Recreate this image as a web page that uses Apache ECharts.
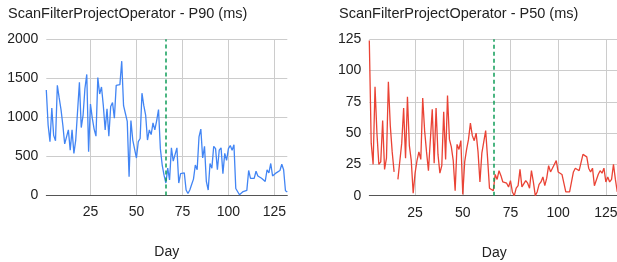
<!DOCTYPE html>
<html>
<head>
<meta charset="utf-8">
<script src="https://cdn.jsdelivr.net/npm/echarts@6/dist/echarts.min.js"></script>
<style>
  html, body { margin: 0; padding: 0; background: #fff; }
  #chart { width: 617px; height: 262px; }
</style>
</head>
<body>
<div id="chart"></div>
<script>
// day numbers 1..132
var days = Array.from({ length: 132 }, function (_, i) { return i + 1; });
var xTicks = [25, 50, 75, 100, 125];
var markDay = 66;

// P90 (ms), one value per day
var p90 = [
  1350, 900, 690, 1120, 770, 700, 1410, 1250, 1100, 900,
  660, 650, 840, 580, 840, 540, 710, 700, 1450, 870,
  1030, 1370, 1550, 560, 1170, 990, 850, 760, 1510, 1300,
  1390, 1150, 840, 1110, 760, 1140, 1190, 990, 1410, 1390,
  1420, 1720, 1150, 1050, 950, 240, 960, 710, 690, 480,
  690, 730, 1310, 1150, 1030, 710, 840, 780, 930, 840,
  960, 1100, 600, 390, 260, 160, 350, 200, 610, 440,
  440, 610, 160, 280, 290, 290, 70, 25, 70, 140,
  210, 390, 330, 750, 850, 480, 630, 180, 70, 410,
  350, 630, 600, 330, 580, 610, 280, 540, 450, 600,
  640, 580, 650, 90, 70, 10, 0, 50, 70, 65,
  320, 220, 210, 220, 310, 250, 230, 220, 200, 180,
  330, 290, 410, 250, 250, 290, 300, 320, 400, 330,
  60, 45
];

// P50 (ms), one value per day (null = no data)
var p50 = [
  124, 42, 25, 87, 50, 25, 27, 60, 21, 30,
  91, 56, 35, 19, null, 13, 14, 42, 70, 30,
  79, 40, 28, 2, 18, 28, 35, 29, 78, 52,
  35, 20, 21, 69, 26, 70, 33, 18, 24, 67,
  29, 80, 45, 39, 28, 4, 41, 37, 44, 1,
  27, 37, 45, 58, 48, 44, 50, 35, 11, 34,
  34, 52, 30, 6, 7, 4, 17, 13, 20, 16,
  11, 10, 10, 7, 12, 3, 0, 6, 8, 21,
  7, 7, 12, 10, 6, 20, 11, 0, 3, 9,
  11, 15, 8, 14, 24, 19, 22, 21, 28, 19,
  20, 17, 10, 3, 3, 3, 2, 19, 22, 22,
  20, 21, 33, 34, 31, 22, 19, 22, 8, 7,
  17, 20, 18, 22, 11, 15, 11, 13, 25, 13,
  3, 8
];

function pairs(vals) {
  return days.map(function (d, i) { return [d, vals[i]]; });
}

var font = 'Arial, "Liberation Sans", sans-serif';
var textCol = '#222';

function xAxisFor(idx) {
  return {
    type: 'value', gridIndex: idx, min: 1, max: 132,
    name: 'Day', nameLocation: 'middle', nameGap: 50,
    nameTextStyle: { fontFamily: font, fontSize: 14, color: textCol },
    axisLine: { show: true, lineStyle: { color: '#555', width: 1 } },
    axisTick: { show: false, customValues: xTicks },
    axisLabel: { customValues: xTicks, fontFamily: font, fontSize: 14, color: textCol, margin: 10 },
    splitLine: { show: true, lineStyle: { color: '#ccc', width: 1 } }
  };
}

function yAxisFor(idx, max, step) {
  return {
    type: 'value', gridIndex: idx, min: 0, max: max, interval: step,
    axisLine: { show: false },
    axisTick: { show: false },
    axisLabel: {
      fontFamily: font, fontSize: 14, color: textCol, margin: 8,
      formatter: function (v) { return String(v); }
    },
    splitLine: { show: true, lineStyle: { color: '#ccc', width: 1 } }
  };
}

function markLineFor() {
  return {
    silent: true, symbol: 'none', label: { show: false },
    lineStyle: { color: '#0f9d58', type: [4, 3], width: 1.5 },
    data: [{ xAxis: markDay }]
  };
}

var titleStyle = { fontFamily: font, fontSize: 14.5, fontWeight: 'normal', color: textCol };

var chart = echarts.init(document.getElementById('chart'), null, { renderer: 'canvas' });
chart.setOption({
  animation: false,
  title: [
    { text: 'ScanFilterProjectOperator - P90 (ms)', left: 8, top: 6, padding: 0, textStyle: titleStyle },
    { text: 'ScanFilterProjectOperator - P50 (ms)', left: 339, top: 6, padding: 0, textStyle: titleStyle }
  ],
  grid: [
    { left: 46.3, right: 329.7, top: 39.3, bottom: 66.5, outerBoundsMode: 'none' },
    { left: 369.3, right: -2.2, top: 39.3, bottom: 66.3, outerBoundsMode: 'none' }
  ],
  xAxis: [xAxisFor(0), xAxisFor(1)],
  yAxis: [yAxisFor(0, 2000, 500), yAxisFor(1, 125, 25)],
  series: [
    {
      name: 'P90', type: 'line', xAxisIndex: 0, yAxisIndex: 0,
      data: pairs(p90), showSymbol: false,
      lineStyle: { color: '#4285f4', width: 1.3 },
      markLine: markLineFor()
    },
    {
      name: 'P50', type: 'line', xAxisIndex: 1, yAxisIndex: 1,
      data: pairs(p50), showSymbol: false, connectNulls: false,
      lineStyle: { color: '#ea4335', width: 1.3 },
      markLine: markLineFor()
    }
  ]
});
</script>
</body>
</html>
